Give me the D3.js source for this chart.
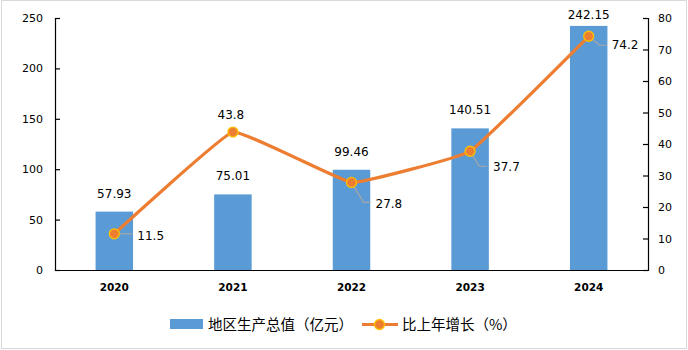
<!DOCTYPE html>
<html>
<head>
<meta charset="utf-8">
<script src="https://cdn.jsdelivr.net/npm/d3@7/dist/d3.min.js"></script>
<style>
  html, body { margin: 0; padding: 0; background: #fff; }
  svg { display: block; }
</style>
</head>
<body>
<svg id="chart" width="688" height="350"></svg>
<script>
// Data
const years = ["2020", "2021", "2022", "2023", "2024"];
const gdp = [57.93, 75.01, 99.46, 140.51, 242.15];        // 地区生产总值（亿元）
const growth = [11.5, 43.8, 27.8, 37.7, 74.2];             // 比上年增长（%）
const leftTicks = [0, 50, 100, 150, 200, 250];
const rightTicks = [0, 10, 20, 30, 40, 50, 60, 70, 80];
const seriesNames = ["地区生产总值（亿元）", "比上年增长（%）"];

// Label placement for the growth series: leader polyline offsets and text anchor offsets
const growthLabelPlacement = [
  { leader: [[0, 0], [18, 0]], text: [23, 6], anchor: "start" },
  { leader: null, text: [-2, -13], anchor: "middle" },
  { leader: [[0, 0], [12, 20], [19, 20]], text: [24, 26], anchor: "start" },
  { leader: [[0, 0], [9, 15], [17, 15]], text: [23, 20], anchor: "start" },
  { leader: [[0, 0], [11, 9], [18, 9]], text: [23, 13], anchor: "start" }
];

const BLUE = "#5B9BD5", ORANGE = "#ED7D31", GOLD = "#FFC000";
const NUM_FONT = "'DejaVu Sans', Verdana, sans-serif";
const CJK_FONT = "'Noto Sans CJK SC', sans-serif";

const svg = d3.select("#chart");
const m = { left: 55, right: 648, top: 18, bottom: 270 };

// Outer frame
svg.append("rect")
  .attr("x", 1.5).attr("y", 0.5).attr("width", 685).attr("height", 348)
  .attr("fill", "#fff").attr("stroke", "#D9D9D9").attr("stroke-width", 1);

const x = d3.scaleBand().domain(years).range([m.left, m.right]).padding(0);
const yL = d3.scaleLinear().domain([0, 250]).range([m.bottom, m.top]);
const yR = d3.scaleLinear().domain([0, 80]).range([m.bottom, m.top]);
const barW = x.bandwidth() * 0.316;
const cx = d => x(d) + x.bandwidth() / 2;

// Bars
svg.append("g").selectAll("rect").data(years).join("rect")
  .attr("x", d => cx(d) - barW / 2)
  .attr("y", (d, i) => yL(gdp[i]))
  .attr("width", barW)
  .attr("height", (d, i) => yL(0) - yL(gdp[i]))
  .attr("fill", BLUE);

// Left axis
const axL = svg.append("g").attr("transform", `translate(${m.left},0)`)
  .call(d3.axisLeft(yL).tickValues(leftTicks).tickSize(-5).tickPadding(12));
// Right axis
const axR = svg.append("g").attr("transform", `translate(${m.right},0)`)
  .call(d3.axisRight(yR).tickValues(rightTicks).tickSize(-5).tickPadding(10));
// Bottom axis
const axB = svg.append("g").attr("transform", `translate(0,${m.bottom})`)
  .call(d3.axisBottom(x).tickSize(0).tickPadding(14));

[axL, axR, axB].forEach(a => {
  a.select(".domain").attr("stroke", "#000").attr("stroke-width", 1.2);
  a.selectAll(".tick line").attr("stroke", "#000").attr("stroke-width", 1.2);
  a.selectAll("text").attr("fill", "#000").style("font-family", NUM_FONT).style("font-size", "11px");
});
axB.selectAll("text").style("font-weight", "bold").style("font-size", "10.5px");

// Bar value labels
svg.append("g").selectAll("text").data(years).join("text")
  .attr("x", d => cx(d))
  .attr("y", (d, i) => Math.max(yL(gdp[i]) - 14, 19))
  .attr("text-anchor", "middle")
  .style("font-family", NUM_FONT).style("font-size", "12px")
  .attr("fill", "#000")
  .text((d, i) => gdp[i].toFixed(2));

// Growth line (lightly smoothed)
const pts = years.map((d, i) => [cx(d), yR(growth[i])]);
svg.append("path")
  .attr("d", d3.line().curve(d3.curveCardinal.tension(0.75))(pts))
  .attr("fill", "none").attr("stroke", ORANGE).attr("stroke-width", 3.2)
  .attr("stroke-linecap", "round").attr("stroke-linejoin", "round");

// Leader lines
const gLead = svg.append("g");
growthLabelPlacement.forEach((p, i) => {
  if (!p.leader) return;
  gLead.append("path")
    .attr("d", d3.line()(p.leader.map(([dx, dy]) => [pts[i][0] + dx, pts[i][1] + dy])))
    .attr("fill", "none").attr("stroke", "#A6A6A6").attr("stroke-width", 1.2);
});

// Markers
svg.append("g").selectAll("circle").data(pts).join("circle")
  .attr("cx", d => d[0]).attr("cy", d => d[1]).attr("r", 5)
  .attr("fill", ORANGE).attr("stroke", GOLD).attr("stroke-width", 1.3);

// Growth labels
svg.append("g").selectAll("text").data(years).join("text")
  .attr("x", (d, i) => pts[i][0] + growthLabelPlacement[i].text[0])
  .attr("y", (d, i) => pts[i][1] + growthLabelPlacement[i].text[1])
  .attr("text-anchor", (d, i) => growthLabelPlacement[i].anchor)
  .style("font-family", NUM_FONT).style("font-size", "12px")
  .attr("fill", "#000")
  .text((d, i) => growth[i].toFixed(1));

// Legend
const lg = svg.append("g");
lg.append("rect").attr("x", 170).attr("y", 319).attr("width", 33).attr("height", 10).attr("fill", BLUE);
lg.append("text").attr("x", 208).attr("y", 330)
  .style("font-family", CJK_FONT).style("font-size", "14.5px").attr("fill", "#000")
  .text(seriesNames[0]);
lg.append("line").attr("x1", 362).attr("x2", 398).attr("y1", 324.5).attr("y2", 324.5)
  .attr("stroke", ORANGE).attr("stroke-width", 3.2);
lg.append("circle").attr("cx", 379.5).attr("cy", 324.5).attr("r", 5)
  .attr("fill", ORANGE).attr("stroke", GOLD).attr("stroke-width", 1.3);
lg.append("text").attr("x", 402).attr("y", 330)
  .style("font-family", CJK_FONT).style("font-size", "14.5px").attr("fill", "#000")
  .text(seriesNames[1]);
</script>
</body>
</html>
